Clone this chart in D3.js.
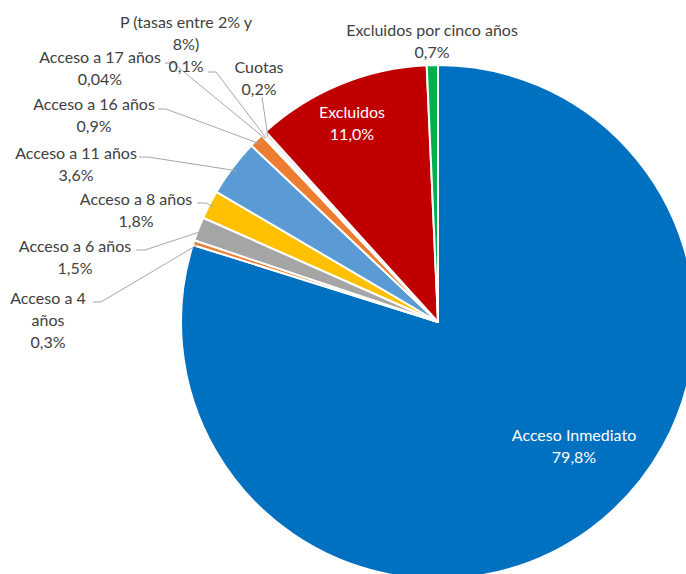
<!DOCTYPE html>
<html>
<head>
<meta charset="utf-8">
<script src="https://cdn.jsdelivr.net/npm/d3@7"></script>
<style>
  body { margin: 0; background: #fff; }
  svg text { font-family: Lato, "Open Sans", sans-serif; font-size: 16px; }
</style>
</head>
<body>
<script>
var width = 686,
    height = 574;

// categories, in drawing order (clockwise from the top)
var categories = ["Acceso Inmediato", "Acceso a 4 años", "Acceso a 6 años", "Acceso a 8 años",
    "Acceso a 11 años", "Acceso a 16 años", "Acceso a 17 años", "P (tasas entre 2% y 8%)",
    "Cuotas", "Excluidos", "Excluidos por cinco años"];
var values = [79.8, 0.3, 1.5, 1.8, 3.6, 0.9, 0.04, 0.1, 0.2, 11.0, 0.7];
var valueLabels = ["79,8%", "0,3%", "1,5%", "1,8%", "3,6%", "0,9%", "0,04%", "0,1%", "0,2%", "11,0%", "0,7%"];
// label text split into lines as in the picture
var labelLines = [["Acceso Inmediato"], ["Acceso a 4", "años"], ["Acceso a 6 años"], ["Acceso a 8 años"],
    ["Acceso a 11 años"], ["Acceso a 16 años"], ["Acceso a 17 años"], ["P (tasas entre 2% y", "8%)"],
    ["Cuotas"], ["Excluidos"], ["Excluidos por cinco años"]];

var colors = ["#0070C0", "#ED7D31", "#A5A5A5", "#FFC000", "#5B9BD5", "#ED7D31",
    "#D9D9D9", "#F2F2F2", "#E7E6E6", "#C00000", "#00B050"];

// label layout: centre of first text line, and leader elbow
var labelPos = [
    {x: 574, y: 435, inside: true},
    {x: 48, y: 298, elbow: [[93, 302], [101, 302]]},
    {x: 75, y: 246, elbow: [[136, 250], [145, 250]]},
    {x: 136, y: 199, elbow: [[197, 203], [206, 203]]},
    {x: 76, y: 153, elbow: [[139, 157], [148, 157]]},
    {x: 94, y: 104, elbow: [[158, 109], [166, 109]]},
    {x: 100, y: 57, elbow: [[165, 63], [173, 63]]},
    {x: 186, y: 22, elbow: [[208, 72], [216, 72]]},
    {x: 259, y: 67, elbow: [[262, 97], [262, 97]]},
    {x: 352, y: 112, inside: true},
    {x: 432, y: 30}
];

var cx = 438, cy = 322, radius = 257;

var svg = d3.select("body").append("svg")
    .attr("width", width)
    .attr("height", height);

var pie = d3.pie().sort(null).value(function (d) { return d; });
var arcs = pie(values);

var arc = d3.arc().innerRadius(0).outerRadius(radius);

var g = svg.append("g")
    .attr("transform", "translate(" + cx + "," + cy + ")");

g.selectAll("path.slice")
    .data(arcs)
    .enter().append("path")
    .attr("class", "slice")
    .attr("d", arc)
    .attr("fill", function (d, i) { return colors[i]; })
    .attr("stroke", "#fff")
    .attr("stroke-width", 2)
    .attr("stroke-linejoin", "round");

// leader lines: from the label elbow to the slice's outer edge
var edge = d3.arc().innerRadius(radius * 0.98).outerRadius(radius * 0.98);
var leaders = svg.append("g");
arcs.forEach(function (d, i) {
    var p = labelPos[i];
    if (!p.elbow) return;
    var c = edge.centroid(d);
    var pts = [p.elbow[0], p.elbow[1], [cx + c[0], cy + c[1]]];
    leaders.append("path")
        .attr("d", d3.line()(pts))
        .attr("fill", "none")
        .attr("stroke", "#A6A6A6")
        .attr("stroke-width", 1);
});

var lineH = 22;
var labels = svg.append("g");
arcs.forEach(function (d, i) {
    var p = labelPos[i];
    var lines = labelLines[i].concat([valueLabels[i]]);
    var t = labels.append("text")
        .attr("text-anchor", "middle")
        .attr("fill", p.inside ? "#fff" : "#404040");
    lines.forEach(function (s, k) {
        t.append("tspan")
            .attr("x", p.x)
            .attr("y", p.y + k * lineH)
            .attr("dy", "0.35em")
            .text(s);
    });
});
</script>
</body>
</html>
